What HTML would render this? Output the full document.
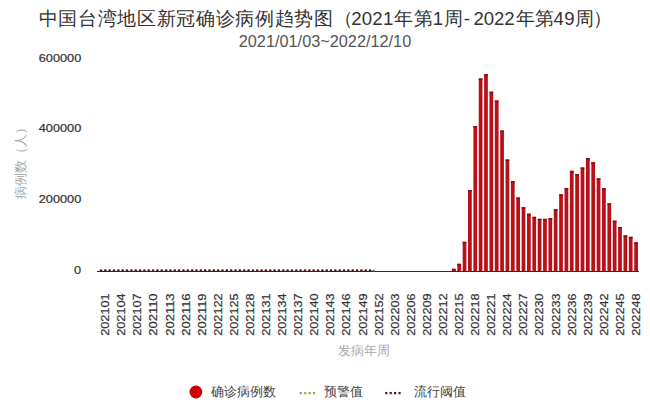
<!DOCTYPE html>
<html><head><meta charset="utf-8"><style>
html,body{margin:0;padding:0;background:#fff;}
svg{display:block;font-family:"Liberation Sans",sans-serif;}
</style></head><body>
<svg width="650" height="407" viewBox="0 0 650 407">
<rect width="650" height="407" fill="#fff"/>
<text x="38.71 58.37 78.03 97.69 117.35 137.01 156.67 176.33 195.99 215.65 235.31 254.97 274.63 294.29 313.95 333.80 351.20 361.80 372.30 382.90 394.30 413.90 432.80 443.50 463.80 473.40 483.70 494.00 504.30 515.60 534.60 553.60 564.20 575.00 592.60" y="25.3" font-size="18.6" fill="#333">中国台湾地区新冠确诊病例趋势图（2021年第1周-2022年第49周）</text>
<text x="325" y="46.9" font-size="16.3" fill="#555" text-anchor="middle">2021/01/03~2022/12/10</text>
<g font-size="11.6" fill="#333" stroke="#333" stroke-width="0.22">
<text x="38.8" y="61.7" textLength="42.4" lengthAdjust="spacingAndGlyphs">600000</text>
<text x="38.8" y="132.1" textLength="42.4" lengthAdjust="spacingAndGlyphs">400000</text>
<text x="38.8" y="203.3" textLength="42.4" lengthAdjust="spacingAndGlyphs">200000</text>
<text x="74.1" y="273.8" textLength="7.07" lengthAdjust="spacingAndGlyphs">0</text>
</g>
<text transform="translate(25.4,160) rotate(-90)" font-size="13.2" fill="#aaa" text-anchor="middle">病例数（人）</text>
<g fill="#b8111a">
<rect x="451.93" y="268.80" width="3.75" height="2.20"/>
<rect x="457.29" y="263.80" width="3.75" height="7.20"/>
<rect x="462.65" y="241.80" width="3.75" height="29.20"/>
<rect x="468.01" y="190.10" width="3.75" height="80.90"/>
<rect x="473.38" y="126.10" width="3.75" height="144.90"/>
<rect x="478.74" y="78.50" width="3.75" height="192.50"/>
<rect x="484.10" y="74.20" width="3.75" height="196.80"/>
<rect x="489.46" y="91.70" width="3.75" height="179.30"/>
<rect x="494.82" y="100.50" width="3.75" height="170.50"/>
<rect x="500.18" y="130.50" width="3.75" height="140.50"/>
<rect x="505.54" y="159.50" width="3.75" height="111.50"/>
<rect x="510.90" y="181.20" width="3.75" height="89.80"/>
<rect x="516.26" y="197.50" width="3.75" height="73.50"/>
<rect x="521.62" y="207.10" width="3.75" height="63.90"/>
<rect x="526.99" y="213.70" width="3.75" height="57.30"/>
<rect x="532.35" y="216.80" width="3.75" height="54.20"/>
<rect x="537.71" y="218.80" width="3.75" height="52.20"/>
<rect x="543.07" y="218.80" width="3.75" height="52.20"/>
<rect x="548.43" y="218.00" width="3.75" height="53.00"/>
<rect x="553.79" y="209.30" width="3.75" height="61.70"/>
<rect x="559.15" y="194.30" width="3.75" height="76.70"/>
<rect x="564.51" y="188.10" width="3.75" height="82.90"/>
<rect x="569.87" y="170.80" width="3.75" height="100.20"/>
<rect x="575.23" y="174.00" width="3.75" height="97.00"/>
<rect x="580.60" y="167.50" width="3.75" height="103.50"/>
<rect x="585.96" y="158.10" width="3.75" height="112.90"/>
<rect x="591.32" y="162.20" width="3.75" height="108.80"/>
<rect x="596.68" y="178.30" width="3.75" height="92.70"/>
<rect x="602.04" y="188.10" width="3.75" height="82.90"/>
<rect x="607.40" y="203.30" width="3.75" height="67.70"/>
<rect x="612.76" y="220.70" width="3.75" height="50.30"/>
<rect x="618.12" y="227.00" width="3.75" height="44.00"/>
<rect x="623.48" y="235.40" width="3.75" height="35.60"/>
<rect x="628.84" y="236.80" width="3.75" height="34.20"/>
<rect x="634.21" y="242.30" width="3.75" height="28.70"/>
</g>
<g fill="#7e1016">
<rect x="451.93" y="268.80" width="3.75" height="1.60"/>
<rect x="457.29" y="263.80" width="3.75" height="1.60"/>
<rect x="462.65" y="241.80" width="3.75" height="1.60"/>
<rect x="468.01" y="190.10" width="3.75" height="1.60"/>
<rect x="473.38" y="126.10" width="3.75" height="1.60"/>
<rect x="478.74" y="78.50" width="3.75" height="1.60"/>
<rect x="484.10" y="74.20" width="3.75" height="1.60"/>
<rect x="489.46" y="91.70" width="3.75" height="1.60"/>
<rect x="494.82" y="100.50" width="3.75" height="1.60"/>
<rect x="500.18" y="130.50" width="3.75" height="1.60"/>
<rect x="505.54" y="159.50" width="3.75" height="1.60"/>
<rect x="510.90" y="181.20" width="3.75" height="1.60"/>
<rect x="516.26" y="197.50" width="3.75" height="1.60"/>
<rect x="521.62" y="207.10" width="3.75" height="1.60"/>
<rect x="526.99" y="213.70" width="3.75" height="1.60"/>
<rect x="532.35" y="216.80" width="3.75" height="1.60"/>
<rect x="537.71" y="218.80" width="3.75" height="1.60"/>
<rect x="543.07" y="218.80" width="3.75" height="1.60"/>
<rect x="548.43" y="218.00" width="3.75" height="1.60"/>
<rect x="553.79" y="209.30" width="3.75" height="1.60"/>
<rect x="559.15" y="194.30" width="3.75" height="1.60"/>
<rect x="564.51" y="188.10" width="3.75" height="1.60"/>
<rect x="569.87" y="170.80" width="3.75" height="1.60"/>
<rect x="575.23" y="174.00" width="3.75" height="1.60"/>
<rect x="580.60" y="167.50" width="3.75" height="1.60"/>
<rect x="585.96" y="158.10" width="3.75" height="1.60"/>
<rect x="591.32" y="162.20" width="3.75" height="1.60"/>
<rect x="596.68" y="178.30" width="3.75" height="1.60"/>
<rect x="602.04" y="188.10" width="3.75" height="1.60"/>
<rect x="607.40" y="203.30" width="3.75" height="1.60"/>
<rect x="612.76" y="220.70" width="3.75" height="1.60"/>
<rect x="618.12" y="227.00" width="3.75" height="1.60"/>
<rect x="623.48" y="235.40" width="3.75" height="1.60"/>
<rect x="628.84" y="236.80" width="3.75" height="1.60"/>
<rect x="634.21" y="242.30" width="3.75" height="1.60"/>
</g>
<line x1="97" y1="271.5" x2="639" y2="271.5" stroke="#2a2a2a" stroke-width="1"/>
<g fill="#4a1616"><circle cx="101.00" cy="270.5" r="1.3"/><circle cx="105.34" cy="270.5" r="1.3"/><circle cx="109.68" cy="270.5" r="1.3"/><circle cx="114.02" cy="270.5" r="1.3"/><circle cx="118.36" cy="270.5" r="1.3"/><circle cx="122.70" cy="270.5" r="1.3"/><circle cx="127.04" cy="270.5" r="1.3"/><circle cx="131.38" cy="270.5" r="1.3"/><circle cx="135.72" cy="270.5" r="1.3"/><circle cx="140.06" cy="270.5" r="1.3"/><circle cx="144.40" cy="270.5" r="1.3"/><circle cx="148.74" cy="270.5" r="1.3"/><circle cx="153.08" cy="270.5" r="1.3"/><circle cx="157.42" cy="270.5" r="1.3"/><circle cx="161.76" cy="270.5" r="1.3"/><circle cx="166.10" cy="270.5" r="1.3"/><circle cx="170.44" cy="270.5" r="1.3"/><circle cx="174.78" cy="270.5" r="1.3"/><circle cx="179.12" cy="270.5" r="1.3"/><circle cx="183.46" cy="270.5" r="1.3"/><circle cx="187.80" cy="270.5" r="1.3"/><circle cx="192.14" cy="270.5" r="1.3"/><circle cx="196.48" cy="270.5" r="1.3"/><circle cx="200.82" cy="270.5" r="1.3"/><circle cx="205.16" cy="270.5" r="1.3"/><circle cx="209.50" cy="270.5" r="1.3"/><circle cx="213.84" cy="270.5" r="1.3"/><circle cx="218.18" cy="270.5" r="1.3"/><circle cx="222.52" cy="270.5" r="1.3"/><circle cx="226.86" cy="270.5" r="1.3"/><circle cx="231.20" cy="270.5" r="1.3"/><circle cx="235.54" cy="270.5" r="1.3"/><circle cx="239.88" cy="270.5" r="1.3"/><circle cx="244.22" cy="270.5" r="1.3"/><circle cx="248.56" cy="270.5" r="1.3"/><circle cx="252.90" cy="270.5" r="1.3"/><circle cx="257.24" cy="270.5" r="1.3"/><circle cx="261.58" cy="270.5" r="1.3"/><circle cx="265.92" cy="270.5" r="1.3"/><circle cx="270.26" cy="270.5" r="1.3"/><circle cx="274.60" cy="270.5" r="1.3"/><circle cx="278.94" cy="270.5" r="1.3"/><circle cx="283.28" cy="270.5" r="1.3"/><circle cx="287.62" cy="270.5" r="1.3"/><circle cx="291.96" cy="270.5" r="1.3"/><circle cx="296.30" cy="270.5" r="1.3"/><circle cx="300.64" cy="270.5" r="1.3"/><circle cx="304.98" cy="270.5" r="1.3"/><circle cx="309.32" cy="270.5" r="1.3"/><circle cx="313.66" cy="270.5" r="1.3"/><circle cx="318.00" cy="270.5" r="1.3"/><circle cx="322.34" cy="270.5" r="1.3"/><circle cx="326.68" cy="270.5" r="1.3"/><circle cx="331.02" cy="270.5" r="1.3"/><circle cx="335.36" cy="270.5" r="1.3"/><circle cx="339.70" cy="270.5" r="1.3"/><circle cx="344.04" cy="270.5" r="1.3"/><circle cx="348.38" cy="270.5" r="1.3"/><circle cx="352.72" cy="270.5" r="1.3"/><circle cx="357.06" cy="270.5" r="1.3"/><circle cx="361.40" cy="270.5" r="1.3"/><circle cx="365.74" cy="270.5" r="1.3"/><circle cx="370.08" cy="270.5" r="1.3"/><circle cx="373.6" cy="270.8" r="1.1" fill="#555"/></g>
<g font-size="11.7" fill="#333" stroke="#333" stroke-width="0.22">
<text transform="translate(109.20,335.8) rotate(-90)" textLength="42.4" lengthAdjust="spacingAndGlyphs">202101</text>
<text transform="translate(125.28,335.8) rotate(-90)" textLength="42.4" lengthAdjust="spacingAndGlyphs">202104</text>
<text transform="translate(141.37,335.8) rotate(-90)" textLength="42.4" lengthAdjust="spacingAndGlyphs">202107</text>
<text transform="translate(157.45,335.8) rotate(-90)" textLength="42.4" lengthAdjust="spacingAndGlyphs">202110</text>
<text transform="translate(173.53,335.8) rotate(-90)" textLength="42.4" lengthAdjust="spacingAndGlyphs">202113</text>
<text transform="translate(189.62,335.8) rotate(-90)" textLength="42.4" lengthAdjust="spacingAndGlyphs">202116</text>
<text transform="translate(205.70,335.8) rotate(-90)" textLength="42.4" lengthAdjust="spacingAndGlyphs">202119</text>
<text transform="translate(221.78,335.8) rotate(-90)" textLength="42.4" lengthAdjust="spacingAndGlyphs">202122</text>
<text transform="translate(237.86,335.8) rotate(-90)" textLength="42.4" lengthAdjust="spacingAndGlyphs">202125</text>
<text transform="translate(253.95,335.8) rotate(-90)" textLength="42.4" lengthAdjust="spacingAndGlyphs">202128</text>
<text transform="translate(270.03,335.8) rotate(-90)" textLength="42.4" lengthAdjust="spacingAndGlyphs">202131</text>
<text transform="translate(286.11,335.8) rotate(-90)" textLength="42.4" lengthAdjust="spacingAndGlyphs">202134</text>
<text transform="translate(302.20,335.8) rotate(-90)" textLength="42.4" lengthAdjust="spacingAndGlyphs">202137</text>
<text transform="translate(318.28,335.8) rotate(-90)" textLength="42.4" lengthAdjust="spacingAndGlyphs">202140</text>
<text transform="translate(334.36,335.8) rotate(-90)" textLength="42.4" lengthAdjust="spacingAndGlyphs">202143</text>
<text transform="translate(350.44,335.8) rotate(-90)" textLength="42.4" lengthAdjust="spacingAndGlyphs">202146</text>
<text transform="translate(366.53,335.8) rotate(-90)" textLength="42.4" lengthAdjust="spacingAndGlyphs">202149</text>
<text transform="translate(382.61,335.8) rotate(-90)" textLength="42.4" lengthAdjust="spacingAndGlyphs">202152</text>
<text transform="translate(398.69,335.8) rotate(-90)" textLength="42.4" lengthAdjust="spacingAndGlyphs">202203</text>
<text transform="translate(414.78,335.8) rotate(-90)" textLength="42.4" lengthAdjust="spacingAndGlyphs">202206</text>
<text transform="translate(430.86,335.8) rotate(-90)" textLength="42.4" lengthAdjust="spacingAndGlyphs">202209</text>
<text transform="translate(446.94,335.8) rotate(-90)" textLength="42.4" lengthAdjust="spacingAndGlyphs">202212</text>
<text transform="translate(463.03,335.8) rotate(-90)" textLength="42.4" lengthAdjust="spacingAndGlyphs">202215</text>
<text transform="translate(479.11,335.8) rotate(-90)" textLength="42.4" lengthAdjust="spacingAndGlyphs">202218</text>
<text transform="translate(495.19,335.8) rotate(-90)" textLength="42.4" lengthAdjust="spacingAndGlyphs">202221</text>
<text transform="translate(511.27,335.8) rotate(-90)" textLength="42.4" lengthAdjust="spacingAndGlyphs">202224</text>
<text transform="translate(527.36,335.8) rotate(-90)" textLength="42.4" lengthAdjust="spacingAndGlyphs">202227</text>
<text transform="translate(543.44,335.8) rotate(-90)" textLength="42.4" lengthAdjust="spacingAndGlyphs">202230</text>
<text transform="translate(559.52,335.8) rotate(-90)" textLength="42.4" lengthAdjust="spacingAndGlyphs">202233</text>
<text transform="translate(575.61,335.8) rotate(-90)" textLength="42.4" lengthAdjust="spacingAndGlyphs">202236</text>
<text transform="translate(591.69,335.8) rotate(-90)" textLength="42.4" lengthAdjust="spacingAndGlyphs">202239</text>
<text transform="translate(607.77,335.8) rotate(-90)" textLength="42.4" lengthAdjust="spacingAndGlyphs">202242</text>
<text transform="translate(623.86,335.8) rotate(-90)" textLength="42.4" lengthAdjust="spacingAndGlyphs">202245</text>
<text transform="translate(639.94,335.8) rotate(-90)" textLength="42.4" lengthAdjust="spacingAndGlyphs">202248</text>
</g>
<text x="363.6" y="354.6" font-size="12.6" fill="#aaa" text-anchor="middle">发病年周</text>
<circle cx="195.9" cy="392" r="6.4" fill="#cc0000"/>
<text x="211.2" y="395.8" font-size="12.8" fill="#444">确诊病例数</text>
<line x1="299.7" y1="393.1" x2="315.2" y2="393.1" stroke="#aca050" stroke-width="2.3" stroke-dasharray="2.2 2.22"/>
<text x="324.4" y="395.8" font-size="12.8" fill="#444">预警值</text>
<line x1="385.2" y1="393.1" x2="400.7" y2="393.1" stroke="#5a1414" stroke-width="2.3" stroke-dasharray="2.2 2.22"/>
<text x="414.4" y="395.8" font-size="12.8" fill="#444">流行阈值</text>
</svg>
</body></html>
